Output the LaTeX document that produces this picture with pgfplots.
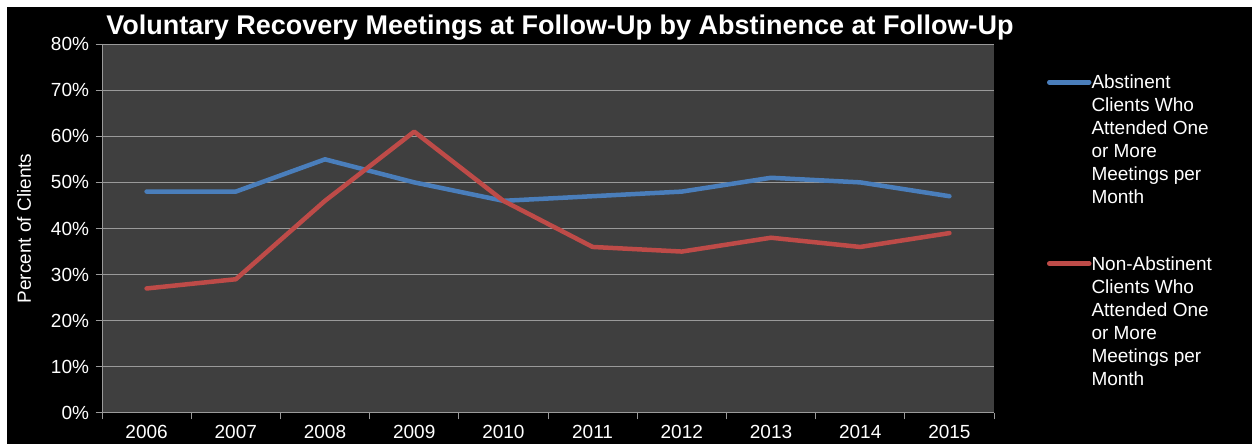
\documentclass[border=0pt]{standalone}
\usepackage{fontspec}
\setmainfont{Liberation Sans}
\usepackage{pgfplots}
\pgfplotsset{compat=1.18}
\definecolor{plotbg}{HTML}{3F3F3F}
\definecolor{gridc}{HTML}{9A9A9A}
\definecolor{sblue}{HTML}{4A7EBB}
\definecolor{sred}{HTML}{BE4B48}
\begin{document}
\begin{tikzpicture}[x=1pt,y=1pt]
\useasboundingbox (0,0) rectangle (1252,444);
\fill[white] (0,0) rectangle (1252,444);
\fill[black] (7,0) rectangle (1252,437);
\begin{axis}[
  at={(102pt,31pt)}, anchor=south west,
  scale only axis, width=892pt, height=369pt,
  axis background/.style={fill=plotbg},
  xmin=-0.5, xmax=9.5, ymin=0, ymax=80,
  axis lines*=left,
  axis line style={gridc, line width=1pt},
  tick style={gridc, line width=1pt},
  tick align=outside, major tick length=6.5pt,
  xtick={-0.5,0.5,...,9.5},
  x tick label as interval,
  xticklabels={2006,2007,2008,2009,2010,2011,2012,2013,2014,2015},
  ytick={0,10,...,80},
  yticklabel={\pgfmathprintnumber{\tick}\%},
  /pgf/number format/assume math mode=true,
  ymajorgrids, grid style={gridc, line width=1pt},
  tick label style={white, font=\fontsize{19}{23}\selectfont},
  yticklabel style={xshift=-3pt},
  xticklabel style={yshift=-2pt},
  ylabel={Percent of Clients},
  ylabel style={white, font=\fontsize{19}{23}\selectfont, at={(axis description cs:-0.0874,0.5)}, anchor=center},
  legend image code/.code={\draw[#1] (0pt,6.5pt) -- (40pt,6.5pt);},
  legend style={draw=none, fill=none, text=white, inner sep=0pt, outer sep=0pt,
    at={(axis description cs:1.0594,0.916)}, anchor=north west,
    column sep=0pt, row sep=166pt,
    nodes={inner sep=0pt, anchor=base west, font=\fontsize{19}{23}\selectfont}},
  clip=false,
]
\addplot[sblue, line width=4.5pt, line join=round, line cap=round] coordinates {
(0,48)(1,48)(2,55)(3,50)(4,46)(5,47)(6,48)(7,51)(8,50)(9,47)};
\addlegendentry{\parbox[t]{160pt}{Abstinent\\Clients Who\\Attended One\\or More\\Meetings per\\Month}}
\addplot[sred, line width=4.5pt, line join=round, line cap=round] coordinates {
(0,27)(1,29)(2,46)(3,61)(4,46)(5,36)(6,35)(7,38)(8,36)(9,39)};
\addlegendentry{\parbox[t]{160pt}{Non-Abstinent\\Clients Who\\Attended One\\or More\\Meetings per\\Month}}
\end{axis}
\node[anchor=base, text=white, font=\fontsize{27}{32}\selectfont\bfseries] at (560,409) {Voluntary Recovery Meetings at Follow-Up by Abstinence at Follow-Up};
\end{tikzpicture}
\end{document}
